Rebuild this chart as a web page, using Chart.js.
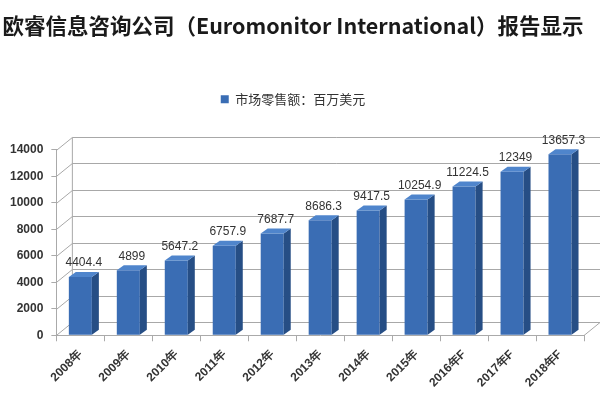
<!DOCTYPE html>
<html>
<head>
<meta charset="utf-8">
<script src="https://cdn.jsdelivr.net/npm/chart.js@4.4.0/dist/chart.umd.min.js"></script>
<style>
html, body { margin: 0; padding: 0; background: #fff; }
#wrap { width: 600px; height: 398px; }
</style>
</head>
<body>
<div id="wrap"><canvas id="grafico"></canvas></div>
<script>
const titulo = "欧睿信息咨询公司（Euromonitor International）报告显示";
const serieNombre = "市场零售额：百万美元";
const años = ["2008年", "2009年", "2010年", "2011年", "2012年", "2013年", "2014年", "2015年", "2016年F", "2017年F", "2018年F"];
const ventas = [4404.4, 4899, 5647.2, 6757.9, 7687.7, 8686.3, 9417.5, 10254.9, 11224.5, 12349, 13657.3];
const ticksY = [0, 2000, 4000, 6000, 8000, 10000, 12000, 14000];

// profundidad del efecto 3D
const DX = 16, DY = 13;   // pared del fondo
const BX = 7, BY = 5;     // caras de las barras

// espacio extra debajo de la leyenda
const espacioLeyenda = {
    id: "espacioLeyenda",
    beforeLayout(chart) {
        const leyenda = chart.legend;
        if (leyenda && !leyenda._parcheado) {
            const fitOriginal = leyenda.fit;
            leyenda.fit = function () {
                fitOriginal.call(this);
                this.height += 34;
            };
            leyenda._parcheado = true;
        }
    }
};

const paredPlugin = {
    id: "pared",
    beforeDatasetsDraw(chart) {
        const { ctx, chartArea } = chart;
        const y = chart.scales.y;
        const izq = chartArea.left, der = chartArea.right;
        ctx.save();
        ctx.strokeStyle = "#a8a8a8";
        ctx.lineWidth = 1;
        ticksY.forEach(t => {
            const py = Math.round(y.getPixelForValue(t)) + 0.5;
            ctx.beginPath();
            ctx.moveTo(izq, py);
            ctx.lineTo(izq + DX, py - DY);
            ctx.lineTo(der + DX, py - DY);
            ctx.stroke();
        });
        const top = Math.round(y.getPixelForValue(14000)) + 0.5;
        const bot = Math.round(y.getPixelForValue(0)) + 0.5;
        ctx.beginPath();
        ctx.moveTo(izq + DX, top - DY);
        ctx.lineTo(izq + DX, bot - DY);
        ctx.stroke();
        ctx.beginPath();
        ctx.moveTo(der, bot);
        ctx.lineTo(der + DX, bot - DY);
        ctx.stroke();
        ctx.restore();
    },
    afterDatasetsDraw(chart) {
        const { ctx } = chart;
        const meta = chart.getDatasetMeta(0);
        ctx.save();
        meta.data.forEach((barra, i) => {
            const props = barra.getProps(["x", "y", "base", "width"], true);
            const l = props.x - props.width / 2, r = props.x + props.width / 2;
            const t = props.y, b = props.base;
            // cara lateral
            ctx.fillStyle = "#264e85";
            ctx.beginPath();
            ctx.moveTo(r, t);
            ctx.lineTo(r + BX, t - BY);
            ctx.lineTo(r + BX, b - BY);
            ctx.lineTo(r, b);
            ctx.closePath();
            ctx.fill();
            // cara superior
            ctx.fillStyle = "#4f85cc";
            ctx.beginPath();
            ctx.moveTo(l, t);
            ctx.lineTo(l + BX, t - BY);
            ctx.lineTo(r + BX, t - BY);
            ctx.lineTo(r, t);
            ctx.closePath();
            ctx.fill();
            // etiqueta
            ctx.fillStyle = "#333";
            ctx.font = "12px 'Liberation Sans', Arial, sans-serif";
            ctx.textAlign = "center";
            ctx.textBaseline = "bottom";
            ctx.fillText(String(ventas[i]), props.x + BX / 2, t - BY - 3);
        });
        ctx.restore();
    }
};

window.addEventListener("load", () => {
    const ctx = document.getElementById("grafico").getContext("2d");
    new Chart(ctx, {
        type: "bar",
        data: {
            labels: años,
            datasets: [{
                label: serieNombre,
                data: ventas,
                backgroundColor: "#3a6db4",
                borderWidth: 0,
                barPercentage: 0.96,
                categoryPercentage: 0.5
            }]
        },
        options: {
            responsive: true,
            maintainAspectRatio: false,
            animation: false,
            layout: { padding: { left: 2, right: 16, bottom: 2 } },
            plugins: {
                title: {
                    display: true,
                    text: titulo,
                    color: "#1a1a1a",
                    font: { family: "'Noto Sans CJK SC', sans-serif", size: 21.5, weight: "bold" },
                    padding: { top: 13, bottom: 48 }
                },
                legend: {
                    display: true,
                    labels: {
                        color: "#333",
                        font: { family: "'Noto Sans CJK SC', sans-serif", size: 13 },
                        boxWidth: 8,
                        boxHeight: 8,
                        padding: 6
                    }
                },
                tooltip: { enabled: false }
            },
            scales: {
                x: {
                    grid: { drawOnChartArea: false, color: "#aaa", tickLength: 6 },
                    border: { display: true, color: "#aaa" },
                    ticks: {
                        color: "#333",
                        font: { family: "'Liberation Sans', Arial, sans-serif", size: 12, weight: "bold" },
                        maxRotation: 45,
                        minRotation: 45,
                        padding: 6
                    }
                },
                y: {
                    min: 0,
                    max: 14000,
                    grid: { drawOnChartArea: false, color: "#aaa", tickLength: 5 },
                    border: { display: true, color: "#aaa" },
                    ticks: {
                        stepSize: 2000,
                        callback: v => String(v),
                        color: "#333",
                        font: { family: "'Liberation Sans', Arial, sans-serif", size: 12, weight: "bold" },
                        padding: 8
                    }
                }
            }
        },
        plugins: [espacioLeyenda, paredPlugin]
    });
});
</script>
</body>
</html>
